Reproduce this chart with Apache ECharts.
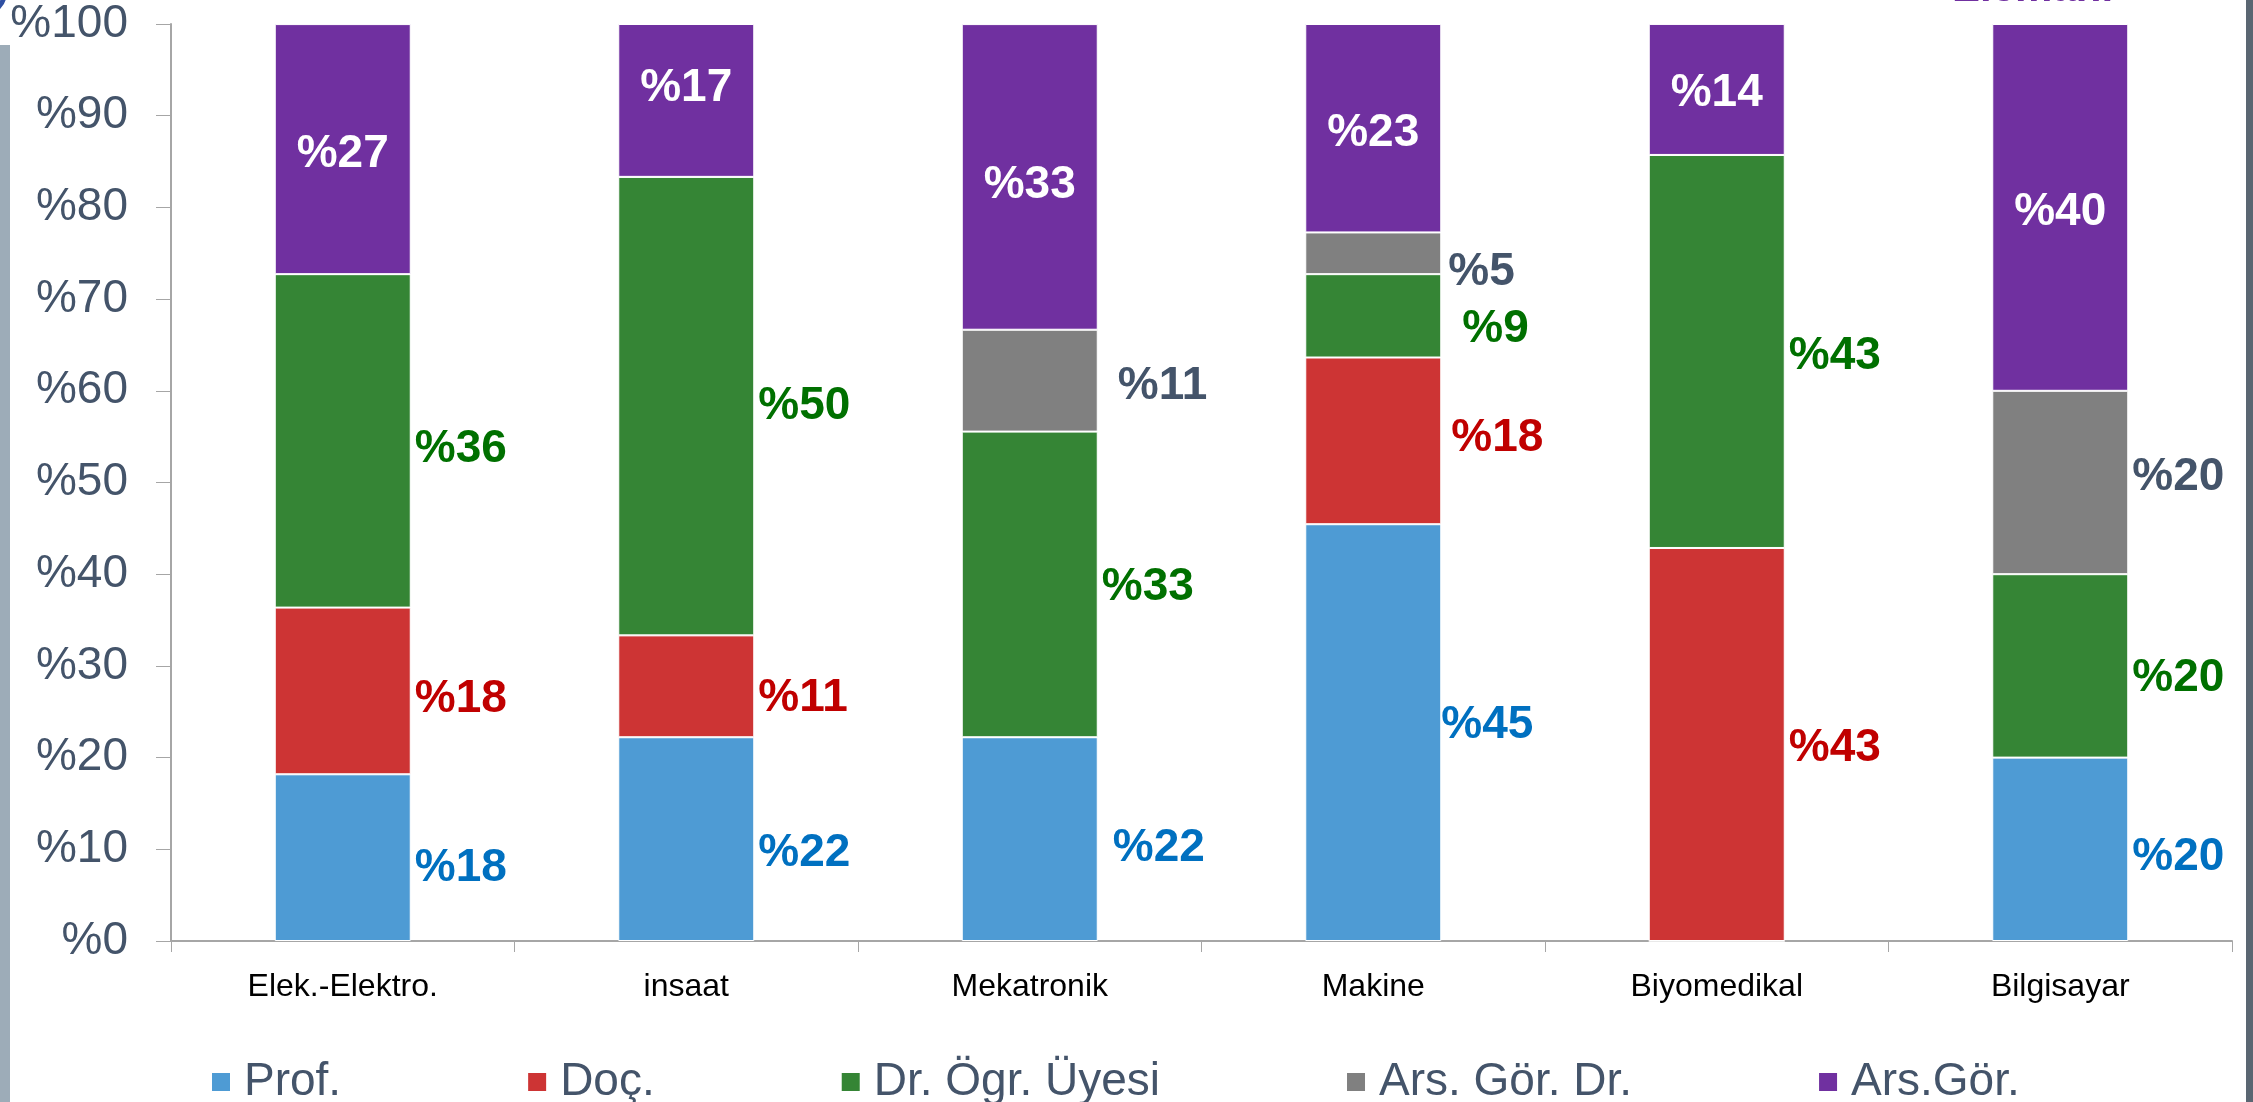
<!DOCTYPE html>
<html>
<head>
<meta charset="utf-8">
<style>
  html, body { margin: 0; padding: 0; background: #fff; }
  #chart { width: 2253px; height: 1102px; }
</style>
<script src="https://cdn.jsdelivr.net/npm/echarts@6/dist/echarts.min.js"></script>
</head>
<body>
<div id="chart"></div>
<script>
// Staff mix per department, share of total (percent)
const categories = ["Elek.-Elektro.", "insaat", "Mekatronik", "Makine", "Biyomedikal", "Bilgisayar"];
const prof     = [18.18, 22.22, 22.22, 45.45, 0, 20];
const doc      = [18.18, 11.11, 0, 18.18, 42.86, 0];
const drOgr    = [36.36, 50.00, 33.33, 9.09, 42.86, 20];
const arsGorDr = [0, 0, 11.11, 4.55, 0, 20];
const arsGor   = [27.27, 16.67, 33.33, 22.73, 14.29, 40];
const yTicks   = [0, 10, 20, 30, 40, 50, 60, 70, 80, 90, 100];

const FONT = "'Liberation Sans', Arial, sans-serif";
const SLATE = "#44546A";

// Hand placement of the data labels, [dx, dy] in px per category (as on the slide).
const labelNudge = {
  "Prof.":          [[0, 11], [0, 14], [11, 9], [-4, -7], [0, 0], [0, 8]],
  "Doç.":           [[0, 8], [0, 12], [0, 0], [6, -3], [0, 4], [0, 0]],
  "Dr. Ögr. Üyesi": [[0, 8], [0, 0], [0, 3], [17, 13], [0, 5], [0, 12]],
  "Ars. Gör. Dr.":  [[0, 0], [0, 0], [16, 6], [3, 19], [0, 0], [0, -5]],
  "Ars.Gör.":       [[0, 5], [0, -12], [0, 8], [0, 5], [0, 4], [0, 5]],
};

const pct = (p) => (p.value > 0 ? "%" + Math.round(p.value) : "");

function seriesFor(name, data, fill, labelColor, inside) {
  return {
    name,
    type: "bar",
    stack: "total",
    barWidth: 136,
    data: data.map((v, i) => ({ value: v, label: { offset: labelNudge[name][i] } })),
    itemStyle: { color: fill, borderColor: "#ffffff", borderWidth: 1 },
    label: {
      show: true,
      position: inside ? "inside" : "right",
      distance: 4,
      formatter: pct,
      color: labelColor,
      fontFamily: FONT,
      fontWeight: "bold",
      fontSize: 46,
    },
  };
}

const chart = echarts.init(document.getElementById("chart"), null, { renderer: "canvas" });

chart.setOption({
  animation: false,
  backgroundColor: "#ffffff",
  textStyle: { fontFamily: FONT },
  grid: { left: 171, right: 21, top: 24, bottom: 161, containLabel: false },
  legend: {
    left: 205,
    top: 1054,
    itemWidth: 20,
    itemHeight: 20,
    itemGap: 185,
    icon: "rect",
    textStyle: { color: SLATE, fontSize: 46, fontFamily: FONT, padding: [0, 0, 0, 8] },
    data: ["Prof.", "Doç.", "Dr. Ögr. Üyesi", "Ars. Gör. Dr.", "Ars.Gör."],
  },
  xAxis: {
    type: "category",
    data: categories,
    axisLine: { lineStyle: { color: "#A6A6A6", width: 2 } },
    axisTick: { show: true, length: 11, lineStyle: { color: "#A6A6A6" } },
    axisLabel: { color: "#000000", fontSize: 32, fontFamily: FONT, margin: 30 },
  },
  yAxis: {
    type: "value",
    min: yTicks[0],
    max: yTicks[yTicks.length - 1],
    interval: 10,
    splitLine: { show: false },
    axisLine: { show: true, lineStyle: { color: "#A6A6A6", width: 2 } },
    axisTick: { show: true, length: 15, lineStyle: { color: "#A6A6A6" } },
    axisLabel: {
      color: SLATE,
      fontSize: 46,
      fontFamily: FONT,
      margin: 43,
      formatter: (v) => "%" + v,
    },
  },
  series: [
    seriesFor("Prof.", prof, "#4E9BD4", "#0070C0"),
    seriesFor("Doç.", doc, "#CD3434", "#C00000"),
    seriesFor("Dr. Ögr. Üyesi", drOgr, "#358535", "#007000"),
    seriesFor("Ars. Gör. Dr.", arsGorDr, "#808080", SLATE),
    seriesFor("Ars.Gör.", arsGor, "#7030A0", "#ffffff", true),
  ],
  graphic: [
    // slide decorations at the edges
    { type: "rect", left: 0, top: 45, shape: { width: 10, height: 1060 }, style: { fill: "#9DACB8" } },
    { type: "rect", left: 2246, top: 0, shape: { width: 7, height: 1102 }, style: { fill: "#5A6672" } },
    { type: "circle", shape: { cx: -14, cy: -6, r: 18 }, style: { fill: "none", stroke: "#2F4FA2", lineWidth: 5 } },
    // tail of the slide title, clipped at the top edge
    {
      type: "text",
      style: { x: 1952, y: 10, verticalAlign: "bottom", text: "Elemanı", fill: "#7030A0", font: "bold 42px " + FONT },
    },
  ],
});
</script>
</body>
</html>
